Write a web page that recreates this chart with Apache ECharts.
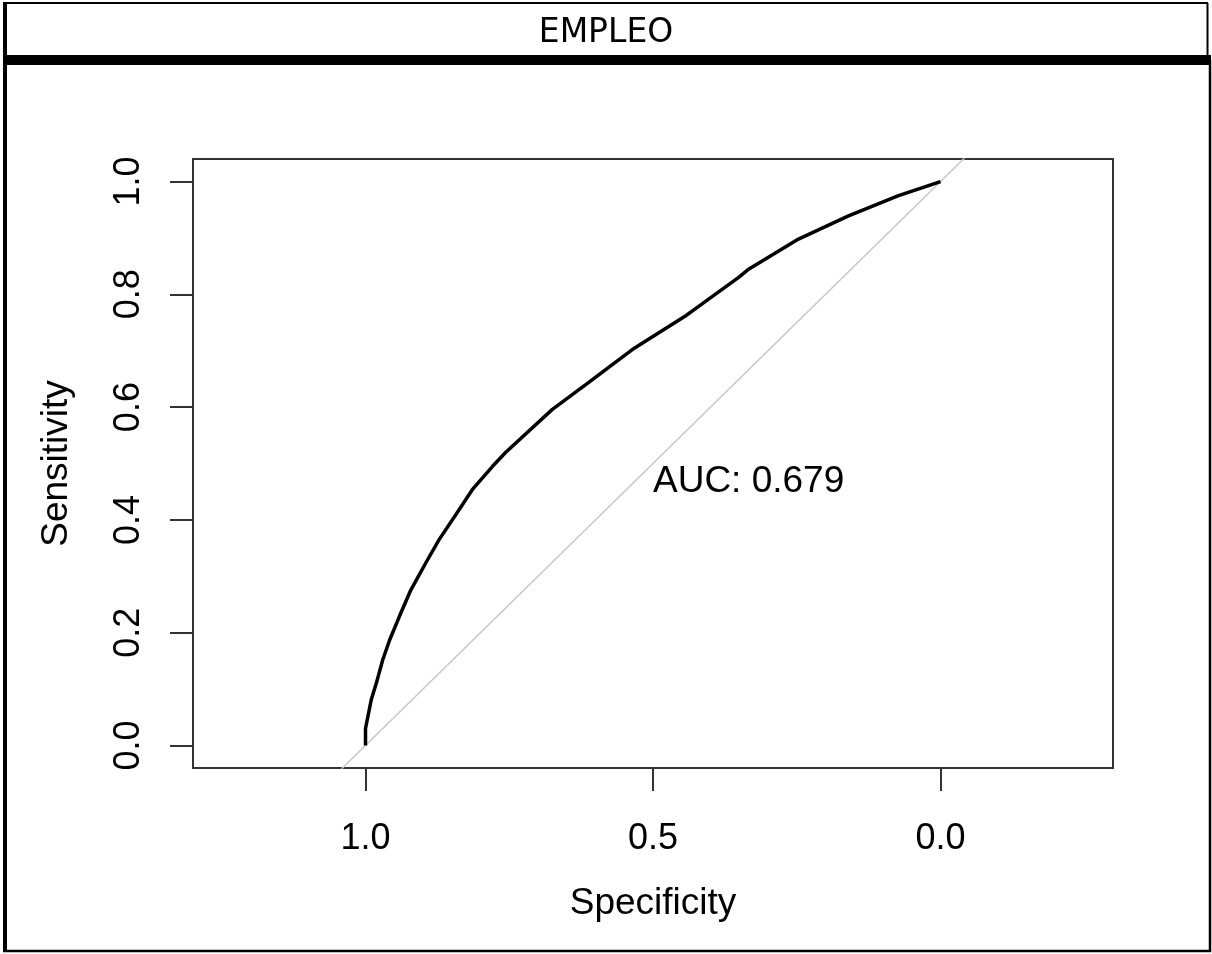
<!DOCTYPE html>
<html>
<head>
<meta charset="utf-8">
<title>EMPLEO</title>
<script src="https://cdn.jsdelivr.net/npm/echarts@6/dist/echarts.min.js"></script>
<style>
  html, body { margin: 0; padding: 0; background: #ffffff; }
  #chart { width: 1212px; height: 954px; }
</style>
</head>
<body>
<div id="chart"></div>
<script>
// ROC curve: specificity (x, reversed) and sensitivity (y)
var specificity = [1.000, 1.000, 0.990, 0.981, 0.970, 0.958, 0.941, 0.921, 0.895, 0.872, 0.843, 0.814, 0.779, 0.756, 0.675, 0.617, 0.536, 0.443, 0.420, 0.351, 0.333, 0.247, 0.160, 0.073, 0.000];
var sensitivity = [0.000, 0.030, 0.081, 0.111, 0.152, 0.187, 0.229, 0.276, 0.324, 0.365, 0.409, 0.454, 0.495, 0.520, 0.596, 0.640, 0.702, 0.762, 0.779, 0.830, 0.845, 0.898, 0.939, 0.975, 1.000];
// chance diagonal, clipped to the plot box
var diagonal = [[1.3, -0.3], [-0.3, 1.3]];
var xTicks = [0, 0.5, 1];
var yTicks = [0, 0.2, 0.4, 0.6, 0.8, 1];
var aucText = "AUC: 0.679";
var aucPos = [0.5, 0.5];

var rocData = [];
for (var i = 0; i < specificity.length; i++) {
    rocData.push([specificity[i], sensitivity[i]]);
}

var labelFont = "'Liberation Sans', Arial, sans-serif";
var chart = echarts.init(document.getElementById("chart"));
chart.setOption({
    animation: false,
    backgroundColor: "#ffffff",
    title: {
        text: "EMPLEO",
        left: "center",
        top: 12,
        textStyle: { fontFamily: "'DejaVu Sans', sans-serif", fontSize: 33, fontWeight: "normal", color: "#000000" }
    },
    graphic: [
        // outer frame and strip
        { type: "line", shape: { x1: 3, y1: 3, x2: 1208, y2: 3 }, style: { stroke: "#000", lineWidth: 2 } },
        { type: "line", shape: { x1: 1207.5, y1: 3, x2: 1207.5, y2: 56 }, style: { stroke: "#000", lineWidth: 2 } },
        { type: "rect", shape: { x: 3, y: 55, width: 1208, height: 10 }, style: { fill: "#000" } },
        { type: "rect", shape: { x: 3, y: 3, width: 4, height: 949 }, style: { fill: "#000" } },
        { type: "line", shape: { x1: 1210, y1: 60, x2: 1210, y2: 952 }, style: { stroke: "#000", lineWidth: 2.5 } },
        { type: "line", shape: { x1: 3, y1: 951, x2: 1211, y2: 951 }, style: { stroke: "#000", lineWidth: 2.5 } }
    ],
    grid: {
        left: 193, top: 159, right: 99, bottom: 186,
        show: true, borderColor: "#333333", borderWidth: 2, backgroundColor: "transparent"
    },
    xAxis: {
        type: "value",
        inverse: true,
        min: -0.3,
        max: 1.3,
        name: "Specificity",
        nameLocation: "middle",
        nameGap: 117,
        nameTextStyle: { fontFamily: labelFont, fontSize: 37, color: "#000" },
        axisLine: { show: false, onZero: false },
        splitLine: { show: false },
        axisTick: { show: true, length: 23, customValues: xTicks, lineStyle: { color: "#333", width: 2 } },
        axisLabel: {
            customValues: xTicks, margin: 53,
            fontFamily: labelFont, fontSize: 36, color: "#000",
            formatter: function(v) { return v.toFixed(1); }
        }
    },
    yAxis: {
        type: "value",
        min: -0.04,
        max: 1.04,
        name: "Sensitivity",
        nameLocation: "middle",
        nameGap: 118,
        nameTextStyle: { fontFamily: labelFont, fontSize: 37, color: "#000" },
        axisLine: { show: false, onZero: false },
        splitLine: { show: false },
        axisTick: { show: true, length: 23, customValues: yTicks, lineStyle: { color: "#333", width: 2 } },
        axisLabel: {
            customValues: yTicks, margin: 46, rotate: 90,
            fontFamily: labelFont, fontSize: 36, color: "#000",
            formatter: function(v) { return v.toFixed(1); }
        }
    },
    series: [
        {
            type: "line",
            data: diagonal,
            clip: true,
            symbol: "none",
            silent: true,
            lineStyle: { color: "#c8c8c8", width: 1.5 }
        },
        {
            type: "line",
            data: rocData,
            symbol: "none",
            smooth: false,
            lineStyle: { color: "#000000", width: 3.5 }
        },
        {
            type: "scatter",
            data: [aucPos],
            symbolSize: 0,
            silent: true,
            itemStyle: { opacity: 1 },
            label: {
                show: true,
                position: [0, 0],
                align: "left",
                verticalAlign: "top",
                formatter: aucText,
                fontFamily: labelFont, fontSize: 37, color: "#000"
            }
        }
    ]
});
</script>
</body>
</html>
